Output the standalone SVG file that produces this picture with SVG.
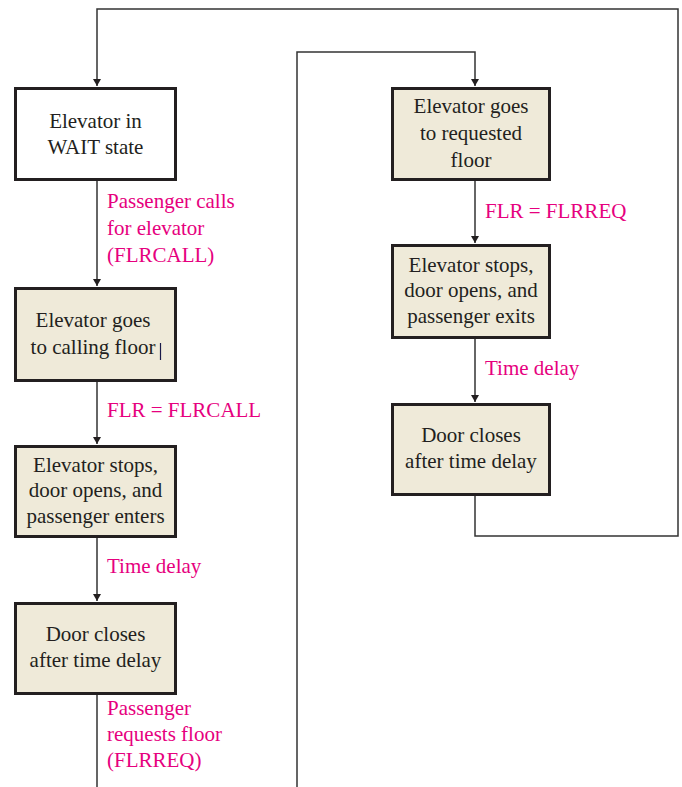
<svg xmlns="http://www.w3.org/2000/svg" width="682" height="787" viewBox="0 0 682 787">
<defs>
<marker id="arr" markerUnits="userSpaceOnUse" markerWidth="8" markerHeight="11" refX="7" refY="4" orient="auto">
<path d="M0,0 L7,4 L0,8 Z" fill="#231f20"/>
</marker>
<style>
.box{fill:#efead9;stroke:#231f20;stroke-width:3}
.wbox{fill:#ffffff;stroke:#231f20;stroke-width:3}
.t{font-family:'Liberation Serif','Times New Roman',serif;font-size:21px;fill:#231f20;text-anchor:middle}
.lbl{font-family:'Liberation Serif','Times New Roman',serif;font-size:21px;fill:#e6007e}
.c{fill:none;stroke:#333333;stroke-width:1.5}
</style>
</defs>
<rect width="682" height="787" fill="#ffffff"/>
<g id="connectors">
<path class="c" d="M475,496 V536 H678 V9 H97 V86" marker-end="url(#arr)"/>
<path class="c" d="M97,181 V286" marker-end="url(#arr)"/>
<path class="c" d="M97,382 V444" marker-end="url(#arr)"/>
<path class="c" d="M97,538 V601" marker-end="url(#arr)"/>
<path class="c" d="M97,695 V800 H297 V52 H475 V86" marker-end="url(#arr)"/>
<path class="c" d="M475,181 V243" marker-end="url(#arr)"/>
<path class="c" d="M475,339 V402" marker-end="url(#arr)"/>
<text class="lbl" x="107" y="208">Passenger calls</text>
<text class="lbl" x="107" y="235">for elevator</text>
<text class="lbl" x="107" y="262">(FLRCALL)</text>
<text class="lbl" x="107" y="417">FLR = FLRCALL</text>
<text class="lbl" x="107" y="573">Time delay</text>
<text class="lbl" x="107" y="715">Passenger</text>
<text class="lbl" x="107" y="741">requests floor</text>
<text class="lbl" x="107" y="767">(FLRREQ)</text>
<text class="lbl" x="485" y="218">FLR = FLRREQ</text>
<text class="lbl" x="485" y="375">Time delay</text>
</g>
<g id="wait">
<rect class="wbox" x="15.5" y="88.5" width="160" height="91"/>
<text class="t" x="95.5" y="128">Elevator in</text>
<text class="t" x="95.5" y="154">WAIT state</text>
</g>
<g id="goCall">
<rect class="box" x="15.5" y="288.5" width="160" height="92"/>
<text class="t" x="93" y="327">Elevator goes</text>
<text class="t" x="93" y="354">to calling floor</text>
<line x1="160.5" y1="343" x2="160.5" y2="360" stroke="#1a1a4a" stroke-width="1.2"/>
</g>
<g id="enter">
<rect class="box" x="15.5" y="446.5" width="160" height="90"/>
<text class="t" x="95.5" y="472">Elevator stops,</text>
<text class="t" x="95.5" y="497">door opens, and</text>
<text class="t" x="95.5" y="523">passenger enters</text>
</g>
<g id="close1">
<rect class="box" x="15.5" y="603.5" width="160" height="90"/>
<text class="t" x="95.5" y="641">Door closes</text>
<text class="t" x="95.5" y="667">after time delay</text>
</g>
<g id="goReq">
<rect class="box" x="392.5" y="88.5" width="157" height="91"/>
<text class="t" x="471" y="113">Elevator goes</text>
<text class="t" x="471" y="140">to requested</text>
<text class="t" x="471" y="167">floor</text>
</g>
<g id="exit">
<rect class="box" x="392.5" y="245.5" width="157" height="92"/>
<text class="t" x="471" y="272">Elevator stops,</text>
<text class="t" x="471" y="297">door opens, and</text>
<text class="t" x="471" y="323">passenger exits</text>
</g>
<g id="close2">
<rect class="box" x="392.5" y="404.5" width="157" height="90"/>
<text class="t" x="471" y="442">Door closes</text>
<text class="t" x="471" y="468">after time delay</text>
</g>
</svg>
